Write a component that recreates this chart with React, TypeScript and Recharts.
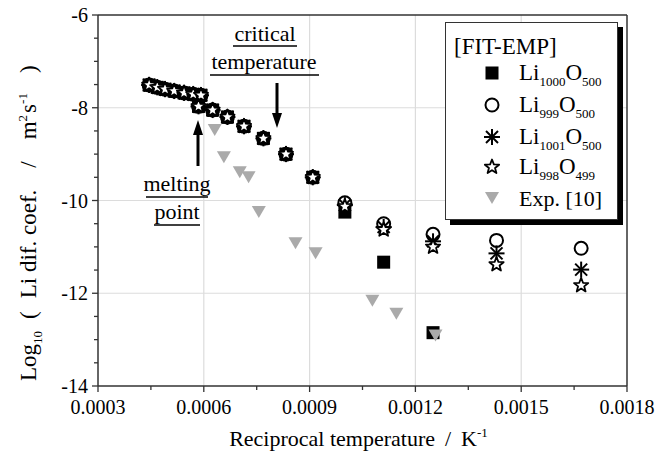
import React from 'react';
import { ScatterChart, Scatter, XAxis, YAxis, ReferenceLine, Legend } from 'recharts';

const FONT = '"Liberation Serif", "Times New Roman", serif';

// axis ticks
const X_MAJOR = [0.0003, 0.0006, 0.0009, 0.0012, 0.0015, 0.0018];
const X_MINOR = [0.00045, 0.00075, 0.00105, 0.00135, 0.00165];
const Y_MAJOR = [-14, -12, -10, -8, -6];
const Y_MINOR = [-13.5, -13, -12.5, -11.5, -11, -10.5, -9.5, -9, -8.5, -7.5, -7, -6.5];
const X_GRID = [0.0006, 0.0009, 0.0012, 0.0015];
const Y_GRID = [-12, -10, -8];

// simulated points, shared high-temperature part
const SIM_X = [0.000445, 0.000468, 0.00049, 0.000516, 0.000544, 0.00057, 0.000592, 0.000585, 0.000625, 0.000667, 0.000714, 0.000769, 0.000833, 0.000909];
const SIM_Y = [-7.51, -7.56, -7.6, -7.64, -7.68, -7.71, -7.73, -7.97, -8.05, -8.2, -8.4, -8.66, -9.0, -9.5];

// low-temperature tails
const LI1000_TAIL_X = [0.001, 0.00111, 0.00125];
const LI1000_TAIL_Y = [-10.25, -11.33, -12.85];
const TAIL_X = [0.001, 0.00111, 0.00125, 0.00143, 0.00167];
const LI999_TAIL_Y = [-10.05, -10.5, -10.73, -10.86, -11.03];
const LI1001_TAIL_Y = [-10.1, -10.57, -10.88, -11.14, -11.49];
const LI998_TAIL_Y = [-10.13, -10.63, -11.0, -11.38, -11.83];

// experiment [10]
const EXP_X = [0.000631, 0.000657, 0.000702, 0.000727, 0.000756, 0.00086, 0.000917, 0.001078, 0.001146, 0.001257];
const EXP_Y = [-8.48, -9.07, -9.39, -9.5, -10.25, -10.92, -11.14, -12.16, -12.44, -12.91];

const zip = (xs: number[], ys: number[]) => xs.map((x, i) => ({ x, y: ys[i] }));

type Kind = 'square' | 'circle' | 'asterisk' | 'star' | 'triangle';

const SERIES: { name: string; kind: Kind; sub1?: string; sub2?: string; data: { x: number; y: number }[] }[] = [
  { name: 'Li1000O500', kind: 'square', sub1: '1000', sub2: '500', data: zip([...SIM_X, ...LI1000_TAIL_X], [...SIM_Y, ...LI1000_TAIL_Y]) },
  { name: 'Li999O500', kind: 'circle', sub1: '999', sub2: '500', data: zip([...SIM_X, ...TAIL_X], [...SIM_Y, ...LI999_TAIL_Y]) },
  { name: 'Li1001O500', kind: 'asterisk', sub1: '1001', sub2: '500', data: zip([...SIM_X, ...TAIL_X], [...SIM_Y, ...LI1001_TAIL_Y]) },
  { name: 'Li998O499', kind: 'star', sub1: '998', sub2: '499', data: zip([...SIM_X, ...TAIL_X], [...SIM_Y, ...LI998_TAIL_Y]) },
  { name: 'Exp. [10]', kind: 'triangle', data: zip(EXP_X, EXP_Y) },
];

function starPoints(cx: number, cy: number, ro: number, ri: number) {
  const pts: string[] = [];
  for (let i = 0; i < 10; i++) {
    const a = (-90 + i * 36) * Math.PI / 180;
    const r = i % 2 === 0 ? ro : ri;
    pts.push(`${cx + r * Math.cos(a)},${cy + r * Math.sin(a)}`);
  }
  return pts.join(' ');
}

function Marker({ kind, cx, cy }: { kind: Kind; cx: number; cy: number }) {
  if (cx == null || cy == null) return null;
  switch (kind) {
    case 'square':
      return <rect x={cx - 6.5} y={cy - 6.5} width={13} height={13} fill="#000" />;
    case 'circle':
      return <circle cx={cx} cy={cy} r={6.5} fill="none" stroke="#000" strokeWidth={2} />;
    case 'asterisk':
      return (
        <g stroke="#000" strokeWidth={2}>
          <line x1={cx - 8} y1={cy} x2={cx + 8} y2={cy} />
          <line x1={cx} y1={cy - 8} x2={cx} y2={cy + 8} />
          <line x1={cx - 6} y1={cy - 6} x2={cx + 6} y2={cy + 6} />
          <line x1={cx - 6} y1={cy + 6} x2={cx + 6} y2={cy - 6} />
        </g>
      );
    case 'star':
      return <polygon points={starPoints(cx, cy, 7.5, 3.2)} fill="#fff" stroke="#000" strokeWidth={1.8} strokeLinejoin="round" />;
    case 'triangle':
      return <polygon points={`${cx - 7},${cy - 6} ${cx + 7},${cy - 6} ${cx},${cy + 6}`} fill="#aaa" />;
  }
  return null;
}

const isMajor = (list: number[], v: number) => list.some((m) => Math.abs(m - v) < 1e-9);

const BottomTick = (p: any) => {
  const major = isMajor(X_MAJOR, p.payload.value);
  return (
    <g>
      <line x1={p.x} y1={p.y} x2={p.x} y2={p.y + (major ? 6 : 4)} stroke="#333" strokeWidth={1.3} />
      {major && (
        <text x={p.x} y={p.y + 28} textAnchor="middle" fontFamily={FONT} fontSize={20} fill="#000">
          {p.payload.value.toFixed(4)}
        </text>
      )}
    </g>
  );
};

const TopTick = (p: any) => {
  const major = isMajor(X_MAJOR, p.payload.value);
  return <line x1={p.x} y1={p.y} x2={p.x} y2={p.y + (major ? 6 : 4)} stroke="#333" strokeWidth={1.3} />;
};

const LeftTick = (p: any) => {
  const major = isMajor(Y_MAJOR, p.payload.value);
  return (
    <g>
      <line x1={p.x - (major ? 6 : 4)} y1={p.y} x2={p.x} y2={p.y} stroke="#333" strokeWidth={1.3} />
      {major && (
        <text x={p.x - 10} y={p.y + 7} textAnchor="end" fontFamily={FONT} fontSize={20} fill="#000">
          {p.payload.value}
        </text>
      )}
    </g>
  );
};

const RightTick = (p: any) => {
  const major = isMajor(Y_MAJOR, p.payload.value);
  return <line x1={p.x - (major ? 6 : 4)} y1={p.y} x2={p.x} y2={p.y} stroke="#333" strokeWidth={1.3} />;
};

const XTitle = (p: any) => {
  const vb = p.viewBox;
  return (
    <text x={vb.x + vb.width / 2 - 4} y={vb.y + 60} textAnchor="middle" fontFamily={FONT} fontSize={22} fill="#000">
      Reciprocal temperature
      <tspan dx={10}>/</tspan>
      <tspan dx={10}>K</tspan>
      <tspan fontSize={13} dy={-9}>-1</tspan>
    </text>
  );
};

const YTitle = (p: any) => {
  const vb = p.viewBox;
  const cx = vb.x - 2;
  const cy = vb.y + vb.height - 5;
  return (
    <text x={cx} y={cy} transform={`rotate(-90 ${cx} ${cy})`} textAnchor="start" fontFamily={FONT} fontSize={23} fill="#000">
      Log<tspan fontSize={13} dy={6}>10</tspan>
      <tspan dy={-6} dx={12}>(</tspan>
      <tspan dx={13}>Li dif. coef.</tspan>
      <tspan dx={22}>/</tspan>
      <tspan dx={22}>m</tspan>
      <tspan fontSize={13} dy={-9}>2</tspan>
      <tspan dy={9} dx={2}>s</tspan>
      <tspan fontSize={13} dy={-9}>-1</tspan>
      <tspan dy={9} dx={20}>)</tspan>
    </text>
  );
};

const LegendBox = () => {
  const rowY = [51, 83, 115, 145, 176];
  return (
    <svg width={184} height={206} style={{ display: 'block' }}>
      <rect x={5} y={5} width={173} height={198} fill="#000" />
      <rect x={0.5} y={0.5} width={172} height={197} fill="#fff" stroke="#333" strokeWidth={1} />
      <text x={9} y={32} fontFamily={FONT} fontSize={23} fill="#000">[FIT-EMP]</text>
      {SERIES.map((s, i) => (
        <g key={s.name}>
          <Marker kind={s.kind} cx={47} cy={rowY[i]} />
          {s.sub1 ? (
            <text x={74} y={rowY[i] + 7} fontFamily={FONT} fontSize={23} fill="#000">
              Li<tspan fontSize={13} dy={6}>{s.sub1}</tspan>
              <tspan dy={-6}>O</tspan>
              <tspan fontSize={13} dy={6}>{s.sub2}</tspan>
            </text>
          ) : (
            <text x={74} y={rowY[i] + 8} fontFamily={FONT} fontSize={22} fill="#000">{s.name}</text>
          )}
        </g>
      ))}
    </svg>
  );
};

const Annotations = () => (
  <svg width={670} height={460} style={{ position: 'absolute', left: 0, top: 0, pointerEvents: 'none' }}>
    <g fontFamily={FONT} fontSize={22} fill="#000" textAnchor="middle">
      <text x={265} y={41}>critical</text>
      <text x={264} y={69}>temperature</text>
      <text x={177} y={191}>melting</text>
      <text x={177} y={219}>point</text>
    </g>
    <g stroke="#000" strokeWidth={1.3}>
      <line x1={233} y1={46} x2={297} y2={46} />
      <line x1={210} y1={75} x2={319} y2={75} />
      <line x1={146} y1={197} x2={208} y2={197} />
      <line x1={154} y1={225} x2={200} y2={225} />
    </g>
    <line x1={277} y1={83} x2={277} y2={116} stroke="#000" strokeWidth={3} />
    <polygon points="272,113 282,113 277,128" fill="#000" />
    <line x1={198} y1={132} x2={198} y2={166} stroke="#000" strokeWidth={3} />
    <polygon points="193,135 203,135 198,120" fill="#000" />
  </svg>
);

export default function App() {
  return (
    <div style={{ position: 'absolute', left: 0, top: 0, width: 670, height: 460, background: '#fff' }}>
      <ScatterChart width={670} height={460} margin={{ top: 14, right: 42, bottom: 34, left: 38 }}>
        <XAxis
          xAxisId="b"
          type="number"
          dataKey="x"
          domain={[0.0003, 0.0018]}
          ticks={[...X_MAJOR, ...X_MINOR]}
          interval={0}
          height={40}
          tickSize={0}
          tickMargin={0}
          tickLine={false}
          tick={BottomTick}
          axisLine={{ stroke: '#333', strokeWidth: 1.5 }}
          label={XTitle}
        />
        <XAxis
          xAxisId="t"
          orientation="top"
          type="number"
          dataKey="x"
          domain={[0.0003, 0.0018]}
          ticks={[...X_MAJOR, ...X_MINOR]}
          interval={0}
          height={1}
          tickSize={0}
          tickMargin={0}
          tickLine={false}
          tick={TopTick}
          axisLine={{ stroke: '#333', strokeWidth: 1.5 }}
        />
        <YAxis
          yAxisId="l"
          type="number"
          dataKey="y"
          domain={[-14, -6]}
          ticks={[...Y_MAJOR, ...Y_MINOR]}
          interval={0}
          width={60}
          tickSize={0}
          tickMargin={0}
          tickLine={false}
          tick={LeftTick}
          axisLine={{ stroke: '#333', strokeWidth: 1.5 }}
          label={YTitle}
        />
        <YAxis
          yAxisId="r"
          orientation="right"
          type="number"
          dataKey="y"
          domain={[-14, -6]}
          ticks={[...Y_MAJOR, ...Y_MINOR]}
          interval={0}
          width={1}
          tickSize={0}
          tickMargin={0}
          tickLine={false}
          tick={RightTick}
          axisLine={{ stroke: '#333', strokeWidth: 1.5 }}
        />
        {X_GRID.map((v) => (
          <ReferenceLine key={`gx${v}`} x={v} xAxisId="b" yAxisId="l" stroke="#dcdcdc" strokeWidth={1.2} />
        ))}
        {Y_GRID.map((v) => (
          <ReferenceLine key={`gy${v}`} y={v} xAxisId="b" yAxisId="l" stroke="#dcdcdc" strokeWidth={1.2} />
        ))}
        {SERIES.map((s) => (
          <Scatter
            key={s.name}
            name={s.name}
            data={s.data}
            xAxisId="b"
            yAxisId="l"
            isAnimationActive={false}
            shape={(p: any) => <Marker kind={s.kind} cx={p.cx} cy={p.cy} />}
          />
        ))}
        <Legend
          layout="horizontal"
          align="center"
          verticalAlign="middle"
          content={() => <LegendBox />}
          wrapperStyle={{ left: 445, top: 22, width: 184, height: 206 }}
        />
      </ScatterChart>
      <Annotations />
    </div>
  );
}
